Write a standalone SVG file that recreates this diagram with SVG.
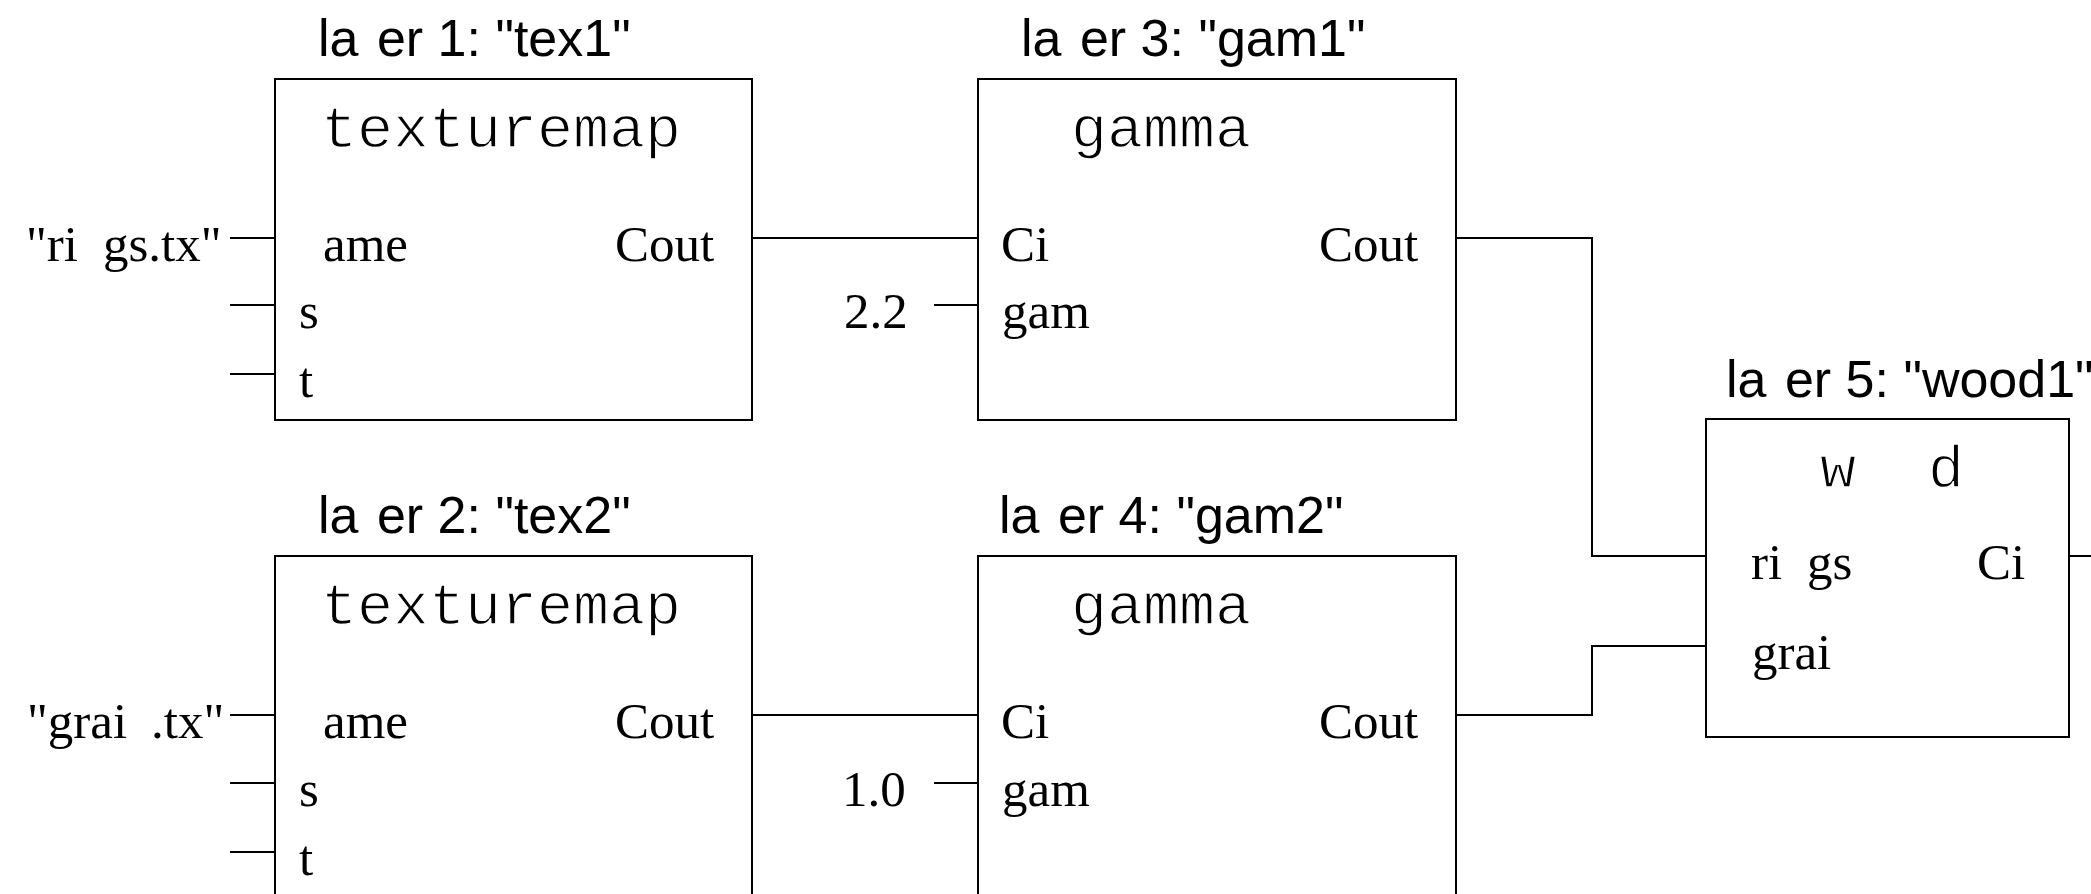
<svg xmlns="http://www.w3.org/2000/svg" width="2091" height="894" viewBox="0 0 2091 894">
<style>
.box{fill:#fff;stroke:#000;stroke-width:2}
.ln{fill:none;stroke:#000;stroke-width:2}
.ttl{font-family:"Liberation Sans",Arial,sans-serif;font-size:52px;fill:#000}
.mono{font-family:"Liberation Mono","Courier New",monospace;font-size:60px;fill:#000;stroke:#fff;stroke-width:1.3px}
.ser{font-family:"Liberation Serif","Times New Roman",serif;font-size:51px;fill:#000}
</style>
<rect width="2091" height="894" fill="#fff"/>
<g id="connectors">
<path class="ln" d="M752 238H978"/>
<path class="ln" d="M752 715H978"/>
<path class="ln" d="M1456 238H1592V556H1706"/>
<path class="ln" d="M1456 715H1592V646H1706"/>
<path class="ln" d="M2069 556H2091"/>
<path class="ln" d="M230 238H275M230 305H275M230 374H275"/>
<path class="ln" d="M230 715H275M230 783H275M230 852H275"/>
<path class="ln" d="M934 305H978"/>
<path class="ln" d="M934 783H978"/>
</g>
<g id="inputs">
<text class="ser" y="261"><tspan x="26">"ri</tspan><tspan x="103">gs.tx"</tspan></text>
<text class="ser" y="738"><tspan x="27">"grai</tspan><tspan x="151">.tx"</tspan></text>
<text class="ser" x="844" y="328">2.2</text>
<text class="ser" x="842" y="806">1.0</text>
</g>
<g id="tex1">
<text class="ttl" x="318" y="56">la<tspan dx="4"> er 1: "tex1"</tspan></text>
<rect class="box" x="275" y="79" width="477" height="341"/>
<text class="mono" x="321" y="147">texturemap</text>
<text class="ser" x="323" y="261">ame</text>
<text class="ser" x="615" y="261">Cout</text>
<text class="ser" x="299" y="328">s</text>
<text class="ser" x="299" y="397">t</text>
</g>
<g id="tex2">
<text class="ttl" x="318" y="533">la<tspan dx="4"> er 2: "tex2"</tspan></text>
<rect class="box" x="275" y="556" width="477" height="341"/>
<text class="mono" x="321" y="624">texturemap</text>
<text class="ser" x="323" y="738">ame</text>
<text class="ser" x="615" y="738">Cout</text>
<text class="ser" x="299" y="806">s</text>
<text class="ser" x="299" y="875">t</text>
</g>
<g id="gam1">
<text class="ttl" x="1021" y="56">la<tspan dx="4"> er 3: "gam1"</tspan></text>
<rect class="box" x="978" y="79" width="478" height="341"/>
<text class="mono" x="1071" y="147">gamma</text>
<text class="ser" x="1001" y="261">Ci</text>
<text class="ser" x="1319" y="261">Cout</text>
<text class="ser" x="1002" y="328">gam</text>
</g>
<g id="gam2">
<text class="ttl" x="999" y="533">la<tspan dx="4"> er 4: "gam2"</tspan></text>
<rect class="box" x="978" y="556" width="478" height="341"/>
<text class="mono" x="1071" y="624">gamma</text>
<text class="ser" x="1001" y="738">Ci</text>
<text class="ser" x="1319" y="738">Cout</text>
<text class="ser" x="1002" y="806">gam</text>
</g>
<g id="wood1">
<text class="ttl" x="1726" y="397">la<tspan dx="4"> er 5: "wood1"</tspan></text>
<rect class="box" x="1706" y="419" width="363" height="318"/>
<text class="mono" y="487"><tspan x="1820">w</tspan><tspan x="1928">d</tspan></text>
<text class="ser" y="579"><tspan x="1751">ri</tspan><tspan x="1807">gs</tspan></text>
<text class="ser" x="1977" y="579">Ci</text>
<text class="ser" x="1752" y="669">grai</text>
</g>
</svg>
